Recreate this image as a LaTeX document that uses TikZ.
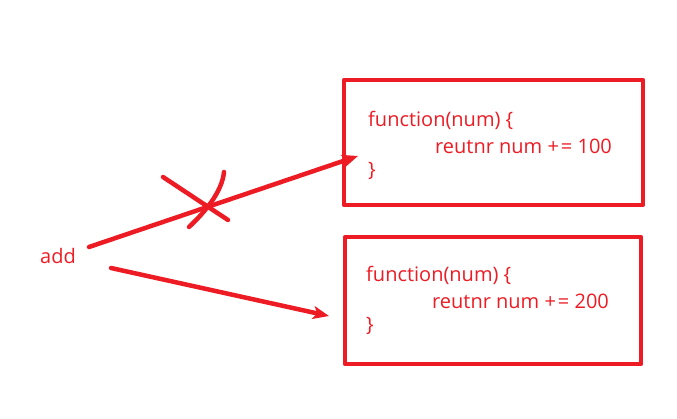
\documentclass[tikz,border=0pt]{standalone}
\usepackage{fontspec}
\setmainfont{Open Sans}
\usetikzlibrary{arrows.meta}
\definecolor{pen}{HTML}{ED1C24}
\tikzset{
  pentxt/.style={text=pen, font=\fontsize{20}{24}\selectfont, inner sep=0pt, anchor=west},
  codebox/.style={draw=pen, line width=4.5pt, line join=round},
  stroke/.style={draw=pen, line width=4.5pt, line cap=round},
  arr/.style={stroke, -{Stealth[length=16pt,width=13pt,inset=4pt]}},
}
\newcommand{\pluseq}{+\hspace{2pt}=}
\begin{document}
\begin{tikzpicture}[x=1pt,y=-1pt]
\useasboundingbox (0,0) rectangle (677,419);
% boxes
\draw[codebox] (344,80) rectangle (643,205);
\draw[codebox] (345,237) rectangle (641,364);
% texts box 1
\node[pentxt] (f1) at (368,120) {function(num) \{};
\node[pentxt] (r1) at (435,146) {reutnr num \pluseq{} 100};
\node[pentxt] (c1) at (368,171) {\}};
% texts box 2
\node[pentxt] (f2) at (366,275) {function(num) \{};
\node[pentxt] (r2) at (432,301) {reutnr num \pluseq{} 200};
\node[pentxt] (c2) at (366,326) {\}};
% add
\node[pentxt] (add) at (40,256) {add};
\coordinate (s1) at (89,247);
\coordinate (t1) at (358,156);
\coordinate (s2) at (111,268);
\coordinate (t2) at (329,316);
\draw[arr] (s1) -- (t1);
\draw[arr] (s2) -- (t2);
% cross
\coordinate (x1a) at (163,177);
\coordinate (x1b) at (228,220);
\coordinate (x2a) at (224,172);
\coordinate (x2b) at (189,227);
\draw[stroke] (x1a) -- (x1b);
\draw[stroke] (x2a) .. controls (222,192) and (205,212) .. (x2b);
\end{tikzpicture}
\end{document}
